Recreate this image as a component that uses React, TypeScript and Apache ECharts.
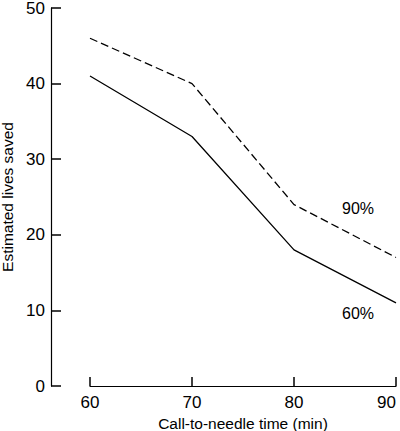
import React, { useEffect, useRef } from "react";
import * as echarts from "echarts";

const times = [60, 70, 80, 90];
const upper90 = [46, 40, 24, 17];
const lower60 = [41, 33, 18, 11];
const yTicks = { min: 0, max: 50, interval: 10 };
const xTicks = { min: 60, max: 90, interval: 10 };
const labelUpper = "90%";
const labelLower = "60%";

export default function App() {
  const ref = useRef<HTMLDivElement>(null);
  useEffect(() => {
    const chart = echarts.init(ref.current!, null, { renderer: "svg" });
    const font = "'Liberation Sans', Arial, sans-serif";
    const axisCommon = {
      axisLine: { show: true, lineStyle: { color: "#000", width: 1.2 } },
      axisTick: { show: true, inside: true, length: 10, lineStyle: { color: "#000", width: 1.5 } },
      splitLine: { show: false },
      axisLabel: { color: "#000", fontSize: 17, fontFamily: font },
      nameTextStyle: { color: "#000", fontSize: 15.5, fontFamily: font, lineHeight: 16 },
    };
    chart.setOption({
      animation: false,
      backgroundColor: "#fff",
      grid: {
        left: 90,
        right: 4,
        top: 8,
        bottom: 45,
        containLabel: false,
        outerBoundsMode: "none",
      },
      xAxis: {
        type: "value",
        ...xTicks,
        ...axisCommon,
        axisTick: { ...axisCommon.axisTick, length: 9 },
        axisLabel: { ...axisCommon.axisLabel, margin: 8, alignMaxLabel: "right" },
        name: "Call-to-needle time (min)",
        nameLocation: "middle",
        nameGap: 25,
      },
      yAxis: {
        type: "value",
        ...yTicks,
        offset: 39,
        ...axisCommon,
        axisLabel: { ...axisCommon.axisLabel, margin: 6 },
        name: "Estimated lives saved",
        nameLocation: "middle",
        nameGap: 27,
      },
      series: [
        {
          type: "line",
          data: times.map((t, i) => [t, upper90[i]]),
          symbol: "none",
          lineStyle: { color: "#000", width: 1.3, type: [8, 4] },
        },
        {
          type: "line",
          data: times.map((t, i) => [t, lower60[i]]),
          symbol: "none",
          lineStyle: { color: "#000", width: 1.3 },
        },
      ],
      graphic: [
        {
          type: "text",
          x: 358,
          y: 208,
          style: { text: labelUpper, fill: "#000", font: `16px ${font}`, align: "center", verticalAlign: "middle" },
        },
        {
          type: "text",
          x: 358,
          y: 313,
          style: { text: labelLower, fill: "#000", font: `16px ${font}`, align: "center", verticalAlign: "middle" },
        },
      ],
    });
    return () => chart.dispose();
  }, []);
  return (
    <div
      ref={ref}
      style={{ position: "fixed", left: 0, top: 0, width: 400, height: 431 }}
    />
  );
}
